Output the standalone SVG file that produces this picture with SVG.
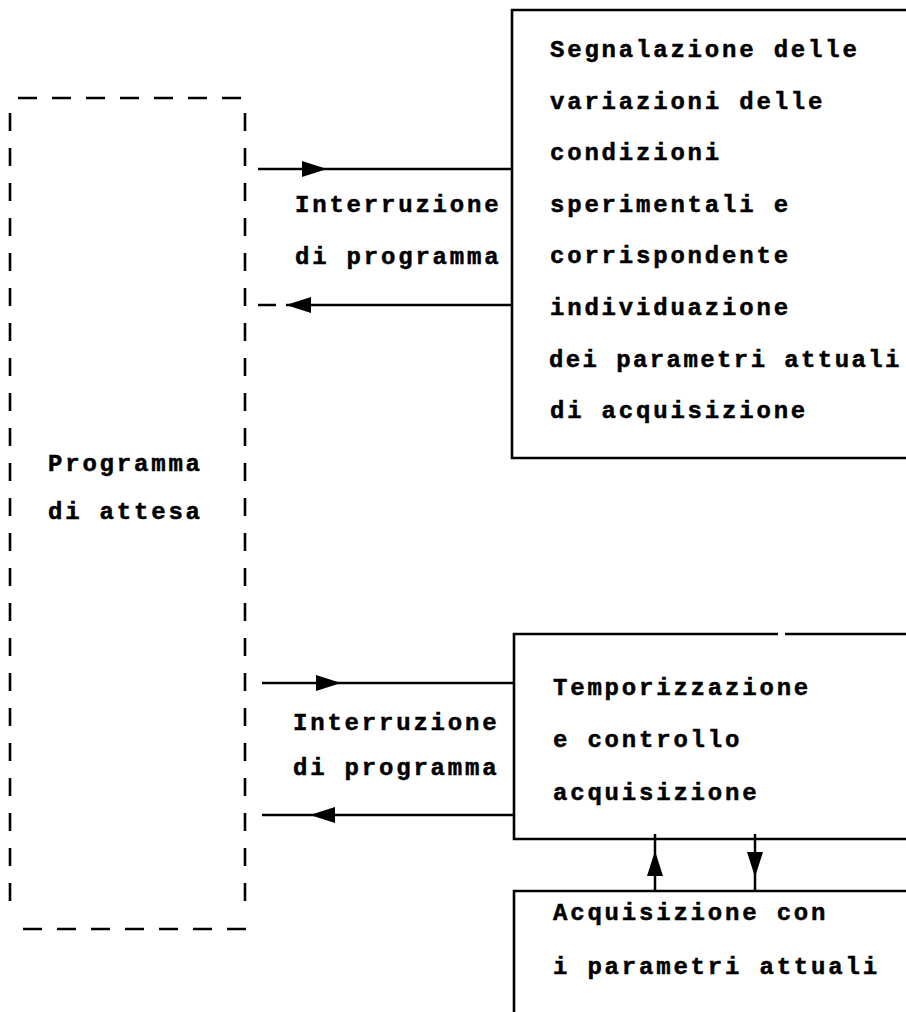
<svg xmlns="http://www.w3.org/2000/svg" width="906" height="1012" viewBox="0 0 906 1012">
<style>
.t{font-family:"Liberation Mono","DejaVu Sans Mono",monospace;font-weight:bold;font-size:24px;letter-spacing:2.8px;fill:#000;stroke:#000;stroke-width:0.5}
.box{fill:none;stroke:#000;stroke-width:2.6}
.dash{fill:none;stroke:#000;stroke-width:2.6;stroke-dasharray:19 15}
.ln{fill:none;stroke:#000;stroke-width:2.5}
.ah{fill:#000}
</style>
<defs>
<path id="ahR" d="M0,0 L-25,-8 L-25,8 Z"/>
</defs>
<rect width="906" height="1012" fill="#fff"/>

<g id="wait">
<line class="dash" x1="18" y1="98" x2="244" y2="98"/>
<line class="dash" x1="23" y1="929" x2="246" y2="929"/>
<line class="dash" x1="10" y1="113" x2="10" y2="905" style="stroke-dasharray:18 17"/>
<line class="dash" x1="245" y1="113" x2="245" y2="905" style="stroke-dasharray:18 17"/>
<text class="t" x="48" y="471">Programma</text>
<text class="t" x="48" y="519">di attesa</text>
</g>

<g id="segnalazione">
<path class="box" d="M906,10 L512,10 L512,458 L906,458"/>
<text class="t" x="550" y="57">Segnalazione delle</text>
<text class="t" x="550" y="108.6">variazioni delle</text>
<text class="t" x="550" y="160.2">condizioni</text>
<text class="t" x="550" y="211.8">sperimentali e</text>
<text class="t" x="550" y="263.4">corrispondente</text>
<text class="t" x="550" y="315">individuazione</text>
<text class="t" x="549" y="366.6" style="letter-spacing:2.4px">dei parametri attuali</text>
<text class="t" x="550" y="418.2">di acquisizione</text>
</g>

<g id="temporizzazione">
<path class="box" d="M778,634 L514,634 L514,839 L906,839"/>
<line class="box" x1="785" y1="634" x2="906" y2="634"/>
<text class="t" x="553" y="695">Temporizzazione</text>
<text class="t" x="553" y="747">e controllo</text>
<text class="t" x="553" y="800">acquisizione</text>
</g>

<g id="acquisizione">
<path class="box" d="M906,891 L514,891 L514,1012"/>
<text class="t" x="553" y="920">Acquisizione con</text>
<text class="t" x="553" y="974">i parametri attuali</text>
</g>

<g id="connectors">
<line class="ln" x1="258" y1="169" x2="513" y2="169"/>
<use href="#ahR" class="ah" transform="translate(327,169)"/>
<line class="ln" x1="258" y1="305" x2="276" y2="305"/>
<line class="ln" x1="286" y1="305" x2="513" y2="305"/>
<use href="#ahR" class="ah" transform="translate(286,305) rotate(180)"/>
<text class="t" x="295" y="212">Interruzione</text>
<text class="t" x="295" y="264">di programma</text>
<line class="ln" x1="262" y1="683" x2="515" y2="683"/>
<use href="#ahR" class="ah" transform="translate(341,683)"/>
<line class="ln" x1="262" y1="815" x2="515" y2="815"/>
<use href="#ahR" class="ah" transform="translate(310,815) rotate(180)"/>
<text class="t" x="293" y="730">Interruzione</text>
<text class="t" x="293" y="775">di programma</text>
<line class="ln" x1="655" y1="834" x2="655" y2="891"/>
<use href="#ahR" class="ah" transform="translate(655,851) rotate(-90)"/>
<line class="ln" x1="755" y1="834" x2="755" y2="891"/>
<use href="#ahR" class="ah" transform="translate(755,877) rotate(90)"/>
</g>
</svg>
